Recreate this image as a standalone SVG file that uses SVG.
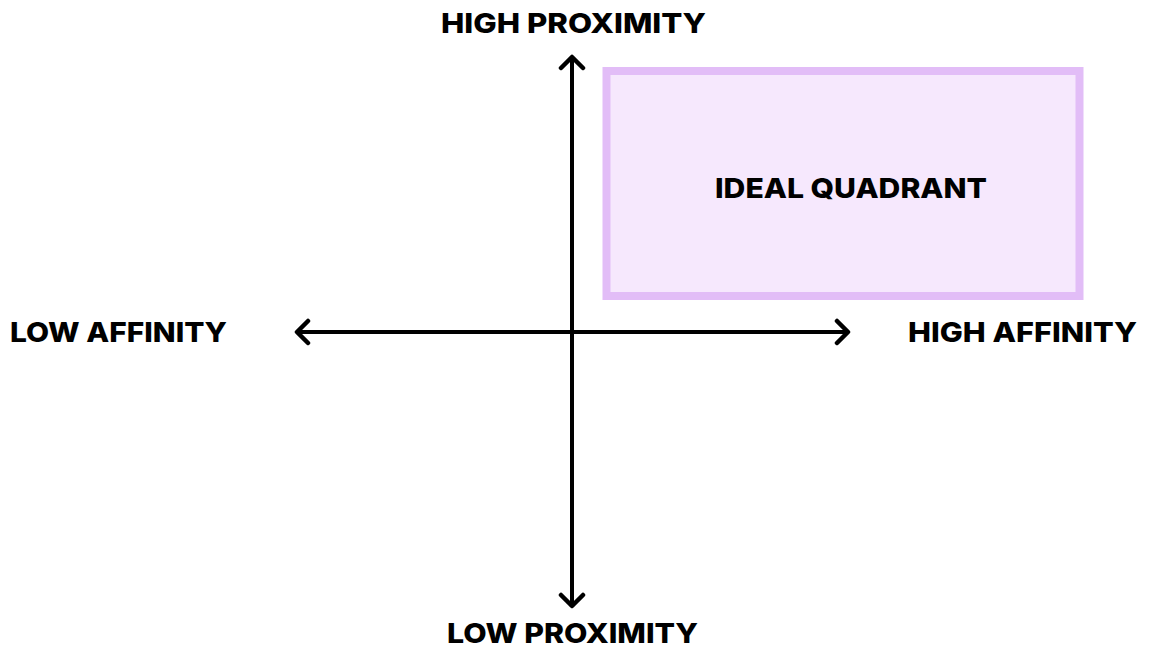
<svg xmlns="http://www.w3.org/2000/svg" width="1150" height="648" viewBox="0 0 1150 648">
<style>
.lbl{font-family:Inter,"Liberation Sans",sans-serif;font-weight:800;font-size:27.5px;fill:#000}
.axis{stroke:#000;stroke-width:4;fill:none}
</style>
<defs>
<marker id="chev" markerUnits="userSpaceOnUse" viewBox="-14 -14 18 28" refX="0" refY="0" markerWidth="18" markerHeight="28" orient="auto-start-reverse">
<path d="M -11 -11 L 0 0 L -11 11" fill="none" stroke="#000" stroke-width="4.5" stroke-linecap="round" stroke-linejoin="round"/>
</marker>
</defs>
<rect width="1150" height="648" fill="#fff"/>
<g id="ideal-quadrant">
<rect x="606.5" y="71" width="473" height="225" fill="#f6e8fd" stroke="#e2bdf7" stroke-width="8"/>
<text class="lbl" x="715" y="197.5" textLength="272" lengthAdjust="spacingAndGlyphs">IDEAL QUADRANT</text>
</g>
<g id="connectors">
<line class="axis" x1="572" y1="57" x2="572" y2="606" marker-start="url(#chev)" marker-end="url(#chev)"/>
<line class="axis" x1="297" y1="332" x2="848" y2="332" marker-start="url(#chev)" marker-end="url(#chev)"/>
</g>
<g id="high-proximity"><text class="lbl" x="441" y="33" textLength="265" lengthAdjust="spacingAndGlyphs">HIGH PROXIMITY</text></g>
<g id="low-proximity"><text class="lbl" x="447" y="642.5" textLength="251" lengthAdjust="spacingAndGlyphs">LOW PROXIMITY</text></g>
<g id="low-affinity"><text class="lbl" x="10" y="341.5" textLength="217" lengthAdjust="spacingAndGlyphs">LOW AFFINITY</text></g>
<g id="high-affinity"><text class="lbl" x="908" y="341.5" textLength="229" lengthAdjust="spacingAndGlyphs">HIGH AFFINITY</text></g>
</svg>
